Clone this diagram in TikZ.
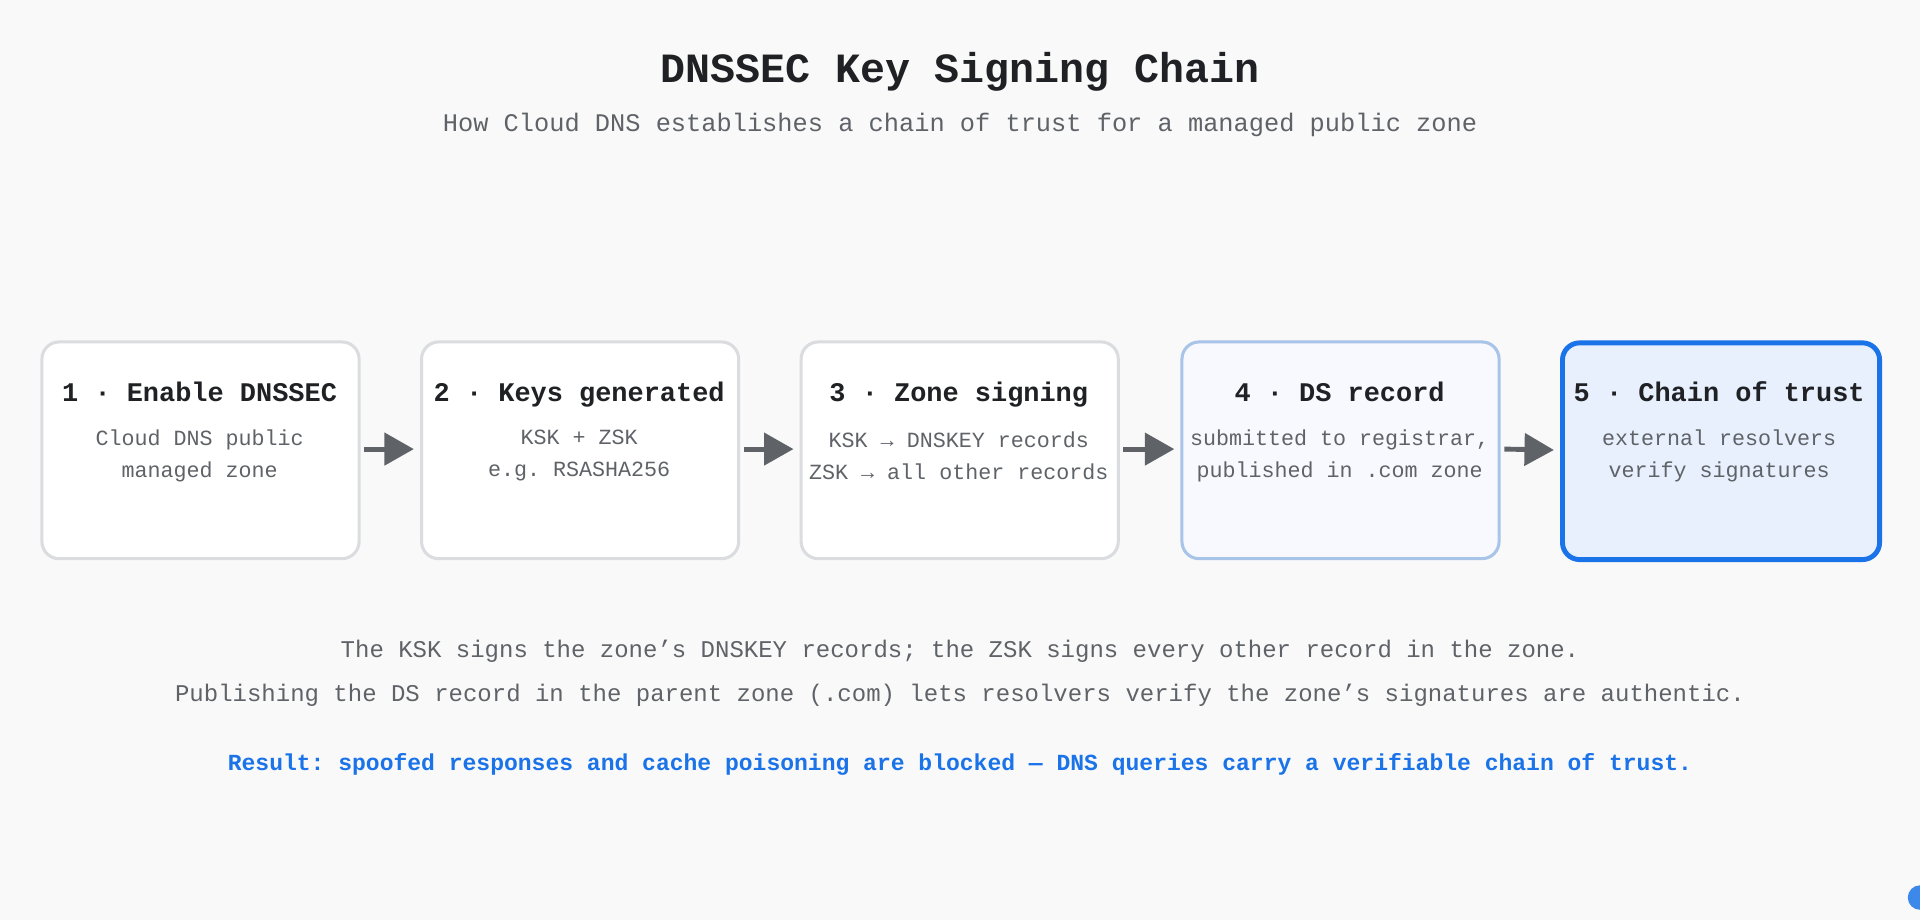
\documentclass[tikz,border=0pt]{standalone}
\usepackage{fontspec}
\setmonofont{Liberation Mono}
\usetikzlibrary{arrows.meta}
\definecolor{bg}{HTML}{F9F9F9}
\definecolor{ink}{HTML}{202124}
\definecolor{sub}{HTML}{5F6368}
\definecolor{gb}{HTML}{DADCE0}
\definecolor{blu}{HTML}{1A73E8}
\definecolor{lb}{HTML}{A8C4E8}
\definecolor{lf}{HTML}{F7F9FE}
\definecolor{bf}{HTML}{E8F0FE}
\definecolor{arr}{HTML}{5F6368}
\begin{document}
\begin{tikzpicture}[x=1pt,y=-1pt,
  box/.style={draw=gb,line width=2.5pt,fill=white,rounded corners=14pt,minimum width=259pt,minimum height=177pt,anchor=north west},
  ttl/.style={font=\ttfamily\bfseries\fontsize{22}{26}\selectfont,text=ink,anchor=base},
  bod/.style={font=\ttfamily\fontsize{17.7}{26}\selectfont,text=sub,align=center},
  con/.style={draw=arr,line width=4pt,-{Triangle[length=24pt,width=26pt]}}]
\fill[bg] (0,0) rectangle (1568,751);
\useasboundingbox (0,0) rectangle (1568,751);
\node[font=\ttfamily\bfseries\fontsize{34}{40}\selectfont,text=ink] (t) at (784,59) {DNSSEC Key Signing Chain};
\node[font=\ttfamily\fontsize{20.7}{25}\selectfont,text=sub] (s) at (784,102) {How Cloud DNS establishes a chain of trust for a managed public zone};
\foreach \i/\x/\a/\b/\c in {1/33/{1 · Enable DNSSEC}/{Cloud DNS public}/{managed zone},
 2/343/{2 · Keys generated}/{KSK + ZSK}/{e.g. RSASHA256},
 3/653/{3 · Zone signing}/{KSK → DNSKEY records}/{ZSK → all other records},
 4/964/{4 · DS record}/{submitted to registrar,}/{published in .com zone},
 5/1274/{5 · Chain of trust}/{external resolvers}/{verify signatures}}{
 \ifnum\i=4 \node[box,draw=lb,fill=lf] (b\i) at (\x,278) {};
 \else\ifnum\i=5 \node[box,draw=blu,fill=bf,line width=4pt] (b\i) at (\x,278) {};
 \else \node[box] (b\i) at (\x,278) {}; \fi\fi
 \node[ttl] (h\i) at (\x+130,328) {\a};
 \node[bod] (d\i) at (\x+130,372) {\b\\\c};
}
\foreach \i/\j in {1/2,2/3,3/4,4/5}{\draw[con] ([xshift=3pt,yshift=1pt]b\i.east) -- ([xshift=-5pt,yshift=1pt]b\j.west);}
\node[font=\ttfamily\fontsize{19.6}{36}\selectfont,text=sub,align=center] (n) at (784,550) {The KSK signs the zone’s DNSKEY records; the ZSK signs every other record in the zone.\\Publishing the DS record in the parent zone (.com) lets resolvers verify the zone’s signatures are authentic.};
\node[font=\ttfamily\bfseries\fontsize{18.8}{22}\selectfont,text=blu] (r) at (784,624) {Result: spoofed responses and cache poisoning are blocked — DNS queries carry a verifiable chain of trust.};
\fill[blu!85] (1568,733) circle (10);
\end{tikzpicture}
\end{document}
